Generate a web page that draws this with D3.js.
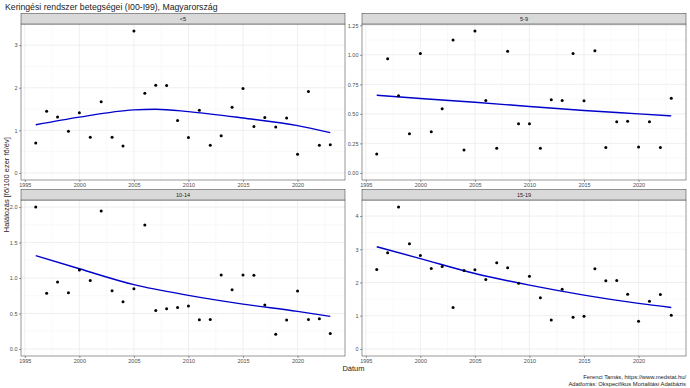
<!DOCTYPE html>
<html>
<head>
<meta charset="utf-8">
<script src="https://cdn.jsdelivr.net/npm/d3@7"></script>
<style>
  html, body { margin: 0; padding: 0; background: #fff; }
  svg { display: block; font-family: "Liberation Sans", Arial, sans-serif; }
</style>
</head>
<body>
<svg id="chart" width="690" height="388"></svg>
<script>
// ---------- DATA ----------
const titleText = "Keringési rendszer betegségei (I00-I99), Magyarország";
const yTitle = "Halálozás [fő/100 ezer fő/év]";
const xTitle = "Dátum";
const captionLines = ["Ferenci Tamás, https://www.medstat.hu/", "Adatforrás: Okspecifikus Mortalitási Adatbázis"];

const years = [1996,1997,1998,1999,2000,2001,2002,2003,2004,2005,2006,2007,2008,2009,
               2010,2011,2012,2013,2014,2015,2016,2017,2018,2019,2020,2021,2022,2023];
const panelNames = ["<5", "5-9", "10-14", "15-19"];

const rateU5   = [0.70,1.445,1.31,0.98,1.41,0.84,1.67,0.84,0.63,3.33,1.87,2.06,2.05,1.23,
                  0.83,1.47,0.65,0.875,1.54,1.98,1.09,1.30,1.08,1.29,0.44,1.91,0.65,0.66];
const rate5_9  = [0.161,0.967,0.653,0.331,1.012,0.348,0.543,1.125,0.195,1.201,0.613,0.209,1.031,0.416,
                  0.416,0.209,0.619,0.613,1.012,0.611,1.035,0.215,0.433,0.438,0.220,0.433,0.215,0.633];
const rate10_14= [2.00,0.784,0.944,0.793,1.114,0.963,1.944,0.821,0.665,0.849,1.746,0.543,0.566,0.585,
                  0.604,0.41,0.415,1.043,0.835,1.043,1.038,0.618,0.208,0.406,0.816,0.415,0.424,0.217];
const rate15_19= [2.392,2.894,4.27,3.166,2.814,2.422,2.482,1.246,2.362,2.382,2.09,2.593,2.442,1.98,
                  2.191,1.538,0.874,1.799,0.955,0.985,2.412,2.05,2.06,1.648,0.834,1.437,1.638,1.015];

// fitted (smoothed) trend
const fitYearsU5 = [1996,2000,2005,2007,2010,2015,2020,2023];
const fitU5      = [1.13,1.31,1.48,1.495,1.44,1.29,1.11,0.946];
const fitYears   = [1996,2000,2005,2010,2015,2020,2023];
const fit5_9     = [0.658,0.630,0.599,0.562,0.528,0.500,0.483];
const fit10_14   = [1.316,1.13,0.906,0.755,0.632,0.529,0.458];
const fit15_19   = [3.075,2.72,2.27,1.92,1.62,1.37,1.246];

const xTicks = [1995,2000,2005,2010,2015,2020];
const yTicksU5 = [0,1,2,3];
const yTicks5_9 = [0,0.25,0.5,0.75,1.0,1.25];
const yTicks10_14 = [0,0.5,1.0,1.5,2.0];
const yTicks15_19 = [0,1,2,3,4];

const panels = [
  {name: panelNames[0], vals: rateU5,    fy: fitYearsU5, fv: fitU5,    ticks: yTicksU5,    fmt: d3.format("d")},
  {name: panelNames[1], vals: rate5_9,   fy: fitYears,   fv: fit5_9,   ticks: yTicks5_9,   fmt: d3.format(".2f")},
  {name: panelNames[2], vals: rate10_14, fy: fitYears,   fv: fit10_14, ticks: yTicks10_14, fmt: d3.format(".1f")},
  {name: panelNames[3], vals: rate15_19, fy: fitYears,   fv: fit15_19, ticks: yTicks15_19, fmt: d3.format("d")}
];

// ---------- LAYOUT ----------
const svg = d3.select("#chart");
const cols = [[21, 345], [362, 686]];
const rows = [[24, 180], [200, 356]];
const stripH = 10.5;

svg.append("text").attr("x", 5).attr("y", 10).attr("font-size", 8.7).attr("fill", "#1a1a1a").text(titleText);

const xMin = d3.min(years), xMax = d3.max(years);
const xPad = (xMax - xMin) * 0.05;

panels.forEach((p, i) => {
  const [x0, x1] = cols[i % 2];
  const [y0, y1] = rows[Math.floor(i / 2)];
  const x = d3.scaleLinear().domain([xMin - xPad, xMax + xPad]).range([x0, x1]);
  const ymax = d3.max(p.vals), ymin = Math.min(0, d3.min(p.vals));
  const yPad = (ymax - ymin) * 0.05;
  const y = d3.scaleLinear().domain([ymin - yPad, ymax + yPad]).range([y1, y0]);

  const g = svg.append("g");
  g.append("rect").attr("x", x0).attr("y", y0).attr("width", x1 - x0).attr("height", y1 - y0).attr("fill", "#fff");

  // minor grid
  const xd = x.domain(), yd = y.domain();
  const xMinor = [];
  for (let k = 0; k <= xTicks.length; k++) {
    const a = k === 0 ? xTicks[0] - 5 : xTicks[k - 1];
    const b = k === xTicks.length ? xTicks[xTicks.length - 1] + 5 : xTicks[k];
    const m = (a + b) / 2;
    if (m >= xd[0] && m <= xd[1]) xMinor.push(m);
  }
  const step = p.ticks[1] - p.ticks[0];
  const yMinor = [];
  for (let k = 0; k <= p.ticks.length; k++) {
    const a = k === 0 ? p.ticks[0] - step : p.ticks[k - 1];
    const b = k === p.ticks.length ? p.ticks[p.ticks.length - 1] + step : p.ticks[k];
    const m = (a + b) / 2;
    if (m >= yd[0] && m <= yd[1]) yMinor.push(m);
  }
  g.selectAll(".xminor").data(xMinor).enter().append("line")
    .attr("x1", d => x(d)).attr("x2", d => x(d)).attr("y1", y0).attr("y2", y1)
    .attr("stroke", "#f2f2f2").attr("stroke-width", 0.5);
  g.selectAll(".yminor").data(yMinor).enter().append("line")
    .attr("x1", x0).attr("x2", x1).attr("y1", d => y(d)).attr("y2", d => y(d))
    .attr("stroke", "#f2f2f2").attr("stroke-width", 0.5);
  g.selectAll(".xmajor").data(xTicks.filter(d => d >= xd[0] && d <= xd[1])).enter().append("line")
    .attr("x1", d => x(d)).attr("x2", d => x(d)).attr("y1", y0).attr("y2", y1)
    .attr("stroke", "#ebebeb").attr("stroke-width", 0.8);
  g.selectAll(".ymajor").data(p.ticks).enter().append("line")
    .attr("x1", x0).attr("x2", x1).attr("y1", d => y(d)).attr("y2", d => y(d))
    .attr("stroke", "#ebebeb").attr("stroke-width", 0.8);

  // fit line
  const line = d3.line().x(d => x(d[0])).y(d => y(d[1])).curve(d3.curveMonotoneX);
  g.append("path").datum(p.fy.map((yy, k) => [yy, p.fv[k]]))
    .attr("d", line).attr("fill", "none").attr("stroke", "#0000cc").attr("stroke-width", 1.4);

  // points
  g.selectAll(".pt").data(p.vals).enter().append("circle")
    .attr("cx", (d, k) => x(years[k])).attr("cy", d => y(d)).attr("r", 1.5).attr("fill", "#000");

  // panel border
  g.append("rect").attr("x", x0).attr("y", y0).attr("width", x1 - x0).attr("height", y1 - y0)
    .attr("fill", "none").attr("stroke", "#333").attr("stroke-width", 0.5);

  // strip
  g.append("rect").attr("x", x0).attr("y", y0 - stripH).attr("width", x1 - x0).attr("height", stripH)
    .attr("fill", "#d9d9d9").attr("stroke", "#333").attr("stroke-width", 0.5);
  g.append("text").attr("x", (x0 + x1) / 2).attr("y", y0 - stripH / 2).attr("dy", "0.35em")
    .attr("text-anchor", "middle").attr("font-size", 5.5).attr("fill", "#1a1a1a").text(p.name);

  // axes
  const xAxis = d3.axisBottom(x).tickValues(xTicks).tickFormat(d3.format("d")).tickSize(2).tickPadding(1);
  const gx = g.append("g").attr("transform", `translate(0,${y1})`).call(xAxis);
  const yAxis = d3.axisLeft(y).tickValues(p.ticks).tickFormat(p.fmt).tickSize(2).tickPadding(1.5);
  const gy = g.append("g").attr("transform", `translate(${x0},0)`).call(yAxis);
  [gx, gy].forEach(a => {
    a.select(".domain").remove();
    a.selectAll(".tick line").attr("stroke", "#333").attr("stroke-width", 0.5);
    a.selectAll(".tick text").attr("font-size", 5.5).attr("fill", "#4d4d4d")
      .attr("font-family", "'Liberation Sans', Arial, sans-serif");
  });
});

// axis titles
svg.append("text").attr("x", (cols[0][0] + cols[1][1]) / 2).attr("y", 371)
  .attr("text-anchor", "middle").attr("font-size", 7.5).attr("fill", "#1a1a1a").text(xTitle);
svg.append("text").attr("transform", `translate(8.5,${(rows[0][0] - stripH + rows[1][1]) / 2}) rotate(-90)`)
  .attr("text-anchor", "middle").attr("font-size", 7.5).attr("fill", "#1a1a1a").text(yTitle);

// caption
captionLines.forEach((t, k) => {
  svg.append("text").attr("x", 686).attr("y", 379 + k * 7).attr("text-anchor", "end")
    .attr("font-size", 5.8).attr("fill", "#1a1a1a").text(t);
});
</script>
</body>
</html>
